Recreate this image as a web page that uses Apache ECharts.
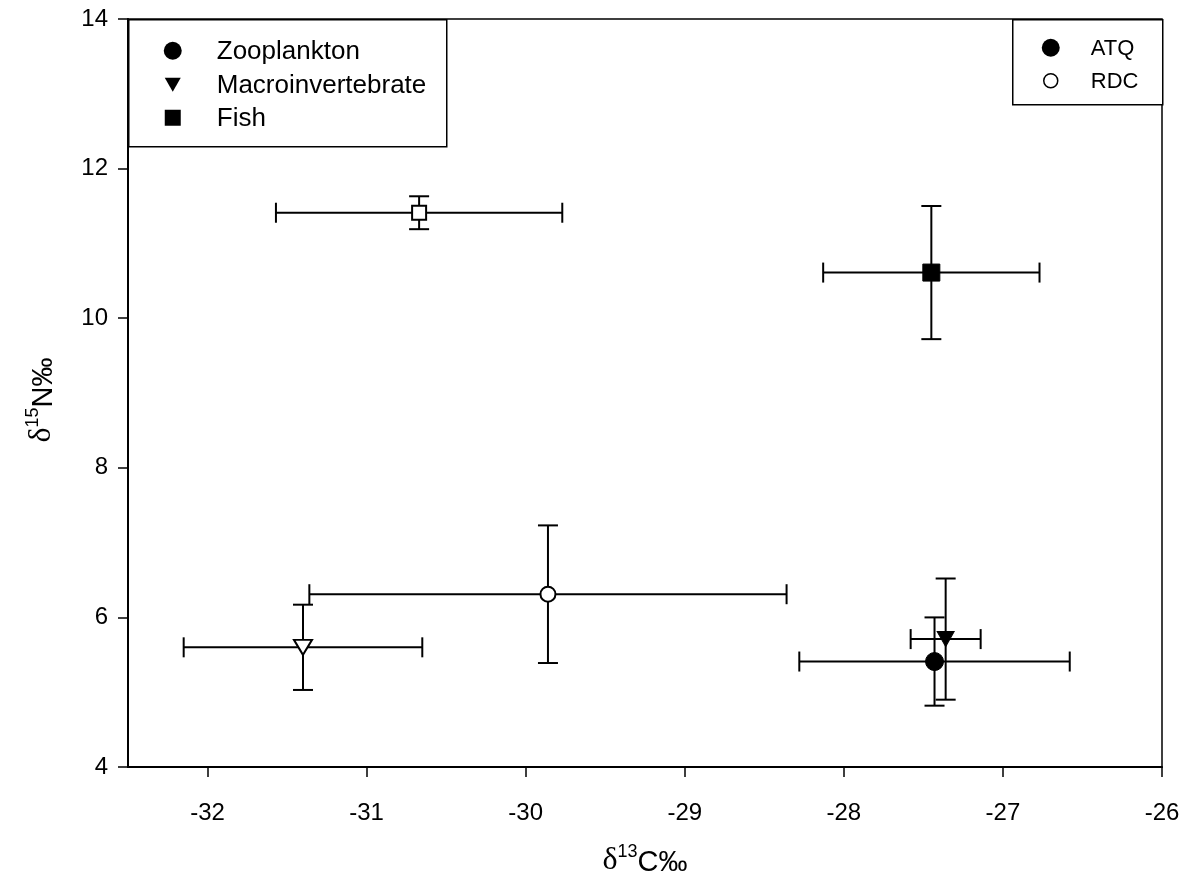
<!DOCTYPE html>
<html>
<head>
<meta charset="utf-8">
<title>Stable isotope biplot</title>
<script src="https://cdn.jsdelivr.net/npm/echarts@6/dist/echarts.min.js"></script>
<style>
  html, body { margin: 0; padding: 0; background: #fff; }
  #chart { width: 1196px; height: 886px; }
</style>
</head>
<body>
<div id="chart"></div>
<script>
// Trophic groups and sampling sites
const groups = ['Zooplankton', 'Macroinvertebrate', 'Fish'];
const sites = ['ATQ', 'RDC'];

// Mean δ13C, δ15N and their error bars, one entry per group
const atqC    = [-27.43, -27.36, -27.45];
const atqN    = [5.41, 5.71, 10.61];
const atqCErr = [0.85, 0.22, 0.68];
const atqNErr = [0.59, 0.81, 0.89];

const rdcC    = [-29.86, -31.40, -30.67];
const rdcN    = [6.31, 5.60, 11.41];
const rdcCErr = [1.50, 0.75, 0.90];
const rdcNErr = [0.92, 0.57, 0.22];

// Axis ticks
const xTicks = [-32, -31, -30, -29, -28, -27, -26];
const yTicks = [4, 6, 8, 10, 12, 14];

const FONT = 'Liberation Sans, Arial, sans-serif';

// symbol look per group
const groupSymbol = {
  Zooplankton:       { symbol: 'circle',   filled: 18, open: 15, rotate: 0 },
  Macroinvertebrate: { symbol: 'triangle', filled: [17, 15], open: [18, 15], rotate: 180 },
  Fish:              { symbol: 'rect',     filled: 17, open: 14, rotate: 0 }
};

function buildRows(cs, ns, cErr, nErr) {
  return groups.map((g, i) => [cs[i], ns[i], cErr[i], nErr[i], g]);
}
const atqRows = buildRows(atqC, atqN, atqCErr, atqNErr);
const rdcRows = buildRows(rdcC, rdcN, rdcCErr, rdcNErr);

const CAP = 10; // half-length of error bar caps, px

function renderErrorBars(params, api) {
  const x = api.value(0), y = api.value(1);
  const ex = api.value(2), ey = api.value(3);
  const l = api.coord([x - ex, y]);
  const r = api.coord([x + ex, y]);
  const t = api.coord([x, y + ey]);
  const b = api.coord([x, y - ey]);
  const style = { stroke: '#000', lineWidth: 2 };
  const seg = (x1, y1, x2, y2) => ({ type: 'line', shape: { x1, y1, x2, y2 }, style });
  return {
    type: 'group',
    children: [
      seg(l[0], l[1], r[0], r[1]),
      seg(l[0], l[1] - CAP, l[0], l[1] + CAP),
      seg(r[0], r[1] - CAP, r[0], r[1] + CAP),
      seg(t[0], t[1], b[0], b[1]),
      seg(t[0] - CAP, t[1], t[0] + CAP, t[1]),
      seg(b[0] - CAP, b[1], b[0] + CAP, b[1])
    ]
  };
}

function scatterData(rows, filled) {
  return rows.map(row => {
    const s = groupSymbol[row[4]];
    return {
      value: [row[0], row[1]],
      symbol: s.symbol,
      symbolSize: filled ? s.filled : s.open,
      symbolRotate: s.rotate
    };
  });
}

const titleRich = {
  d: { fontFamily: 'Liberation Serif, serif', fontSize: 32, lineHeight: 34, verticalAlign: 'bottom', color: '#000' },
  s: { fontFamily: FONT, fontSize: 18, lineHeight: 18, verticalAlign: 'top', color: '#000' },
  t: { fontFamily: FONT, fontSize: 29, lineHeight: 34, verticalAlign: 'bottom', color: '#000' }
};

const chart = echarts.init(document.getElementById('chart'), null, { renderer: 'canvas' });

const option = {
  backgroundColor: '#fff',
  animation: false,
  grid: {
    left: 128, right: 34, top: 19, bottom: 119,
    show: true, borderColor: '#000', borderWidth: 1.5, backgroundColor: 'transparent'
  },
  xAxis: {
    type: 'value',
    min: -32.5, max: -26,
    name: '{d|δ}{s|13}{t|C‰}',
    nameLocation: 'middle',
    nameGap: 76,
    nameTextStyle: { rich: titleRich },
    axisLine: { show: true, onZero: false, lineStyle: { color: '#000', width: 2 } },
    axisTick: {
      show: true, inside: false, length: 10,
      lineStyle: { color: '#000', width: 1.5 },
      customValues: xTicks
    },
    axisLabel: {
      color: '#000', fontFamily: FONT, fontSize: 24, margin: 34,
      customValues: xTicks
    },
    splitLine: { show: false }
  },
  yAxis: {
    type: 'value',
    min: 4, max: 14,
    interval: 2,
    name: '{d|δ}{s|15}{t|N‰}',
    nameLocation: 'middle',
    nameRotate: 90,
    nameGap: 70,
    nameTextStyle: { rich: titleRich, padding: [0, 14, 0, 0] },
    axisLine: { show: true, onZero: false, lineStyle: { color: '#000', width: 2 } },
    axisTick: {
      show: true, inside: false, length: 10,
      lineStyle: { color: '#000', width: 1.5 },
      customValues: yTicks
    },
    axisLabel: {
      color: '#000', fontFamily: FONT, fontSize: 24, margin: 20,
      customValues: yTicks
    },
    splitLine: { show: false }
  },
  series: [
    {
      name: 'ATQ error', type: 'custom', renderItem: renderErrorBars,
      data: atqRows, z: 2, silent: true
    },
    {
      name: 'RDC error', type: 'custom', renderItem: renderErrorBars,
      data: rdcRows, z: 2, silent: true
    },
    {
      name: sites[0], type: 'scatter', z: 3,
      itemStyle: { color: '#000', borderColor: '#000', borderWidth: 1, opacity: 1 },
      data: scatterData(atqRows, true)
    },
    {
      name: sites[1], type: 'scatter', z: 3,
      itemStyle: { color: '#fff', borderColor: '#000', borderWidth: 2, opacity: 1 },
      data: scatterData(rdcRows, false)
    }
  ],
  graphic: [
    // group legend (marker shape)
    {
      type: 'group', left: 128, top: 19, z: 10,
      children: [
        { type: 'rect', shape: { x: 0, y: 0, width: 318, height: 127 }, style: { fill: '#fff', stroke: '#000', lineWidth: 1.5 } },
        { type: 'circle', shape: { cx: 44, cy: 31, r: 9 }, style: { fill: '#000' } },
        { type: 'polygon', shape: { points: [[36, 58], [52, 58], [44, 72]] }, style: { fill: '#000' } },
        { type: 'rect', shape: { x: 36, y: 90, width: 16, height: 16 }, style: { fill: '#000' } },
        { type: 'text', x: 88, y: 32, style: { text: groups[0], fill: '#000', font: '26px ' + FONT, verticalAlign: 'middle' } },
        { type: 'text', x: 88, y: 66, style: { text: groups[1], fill: '#000', font: '26px ' + FONT, verticalAlign: 'middle' } },
        { type: 'text', x: 88, y: 99, style: { text: groups[2], fill: '#000', font: '26px ' + FONT, verticalAlign: 'middle' } }
      ]
    },
    // site legend (fill)
    {
      type: 'group', left: 1012, top: 19, z: 10,
      children: [
        { type: 'rect', shape: { x: 0, y: 0, width: 150, height: 85 }, style: { fill: '#fff', stroke: '#000', lineWidth: 1.5 } },
        { type: 'circle', shape: { cx: 38, cy: 28, r: 9 }, style: { fill: '#000' } },
        { type: 'circle', shape: { cx: 38, cy: 61, r: 7 }, style: { fill: '#fff', stroke: '#000', lineWidth: 1.5 } },
        { type: 'text', x: 78, y: 29, style: { text: sites[0], fill: '#000', font: '22px ' + FONT, verticalAlign: 'middle' } },
        { type: 'text', x: 78, y: 62, style: { text: sites[1], fill: '#000', font: '22px ' + FONT, verticalAlign: 'middle' } }
      ]
    }
  ]
};

chart.setOption(option);
</script>
</body>
</html>
